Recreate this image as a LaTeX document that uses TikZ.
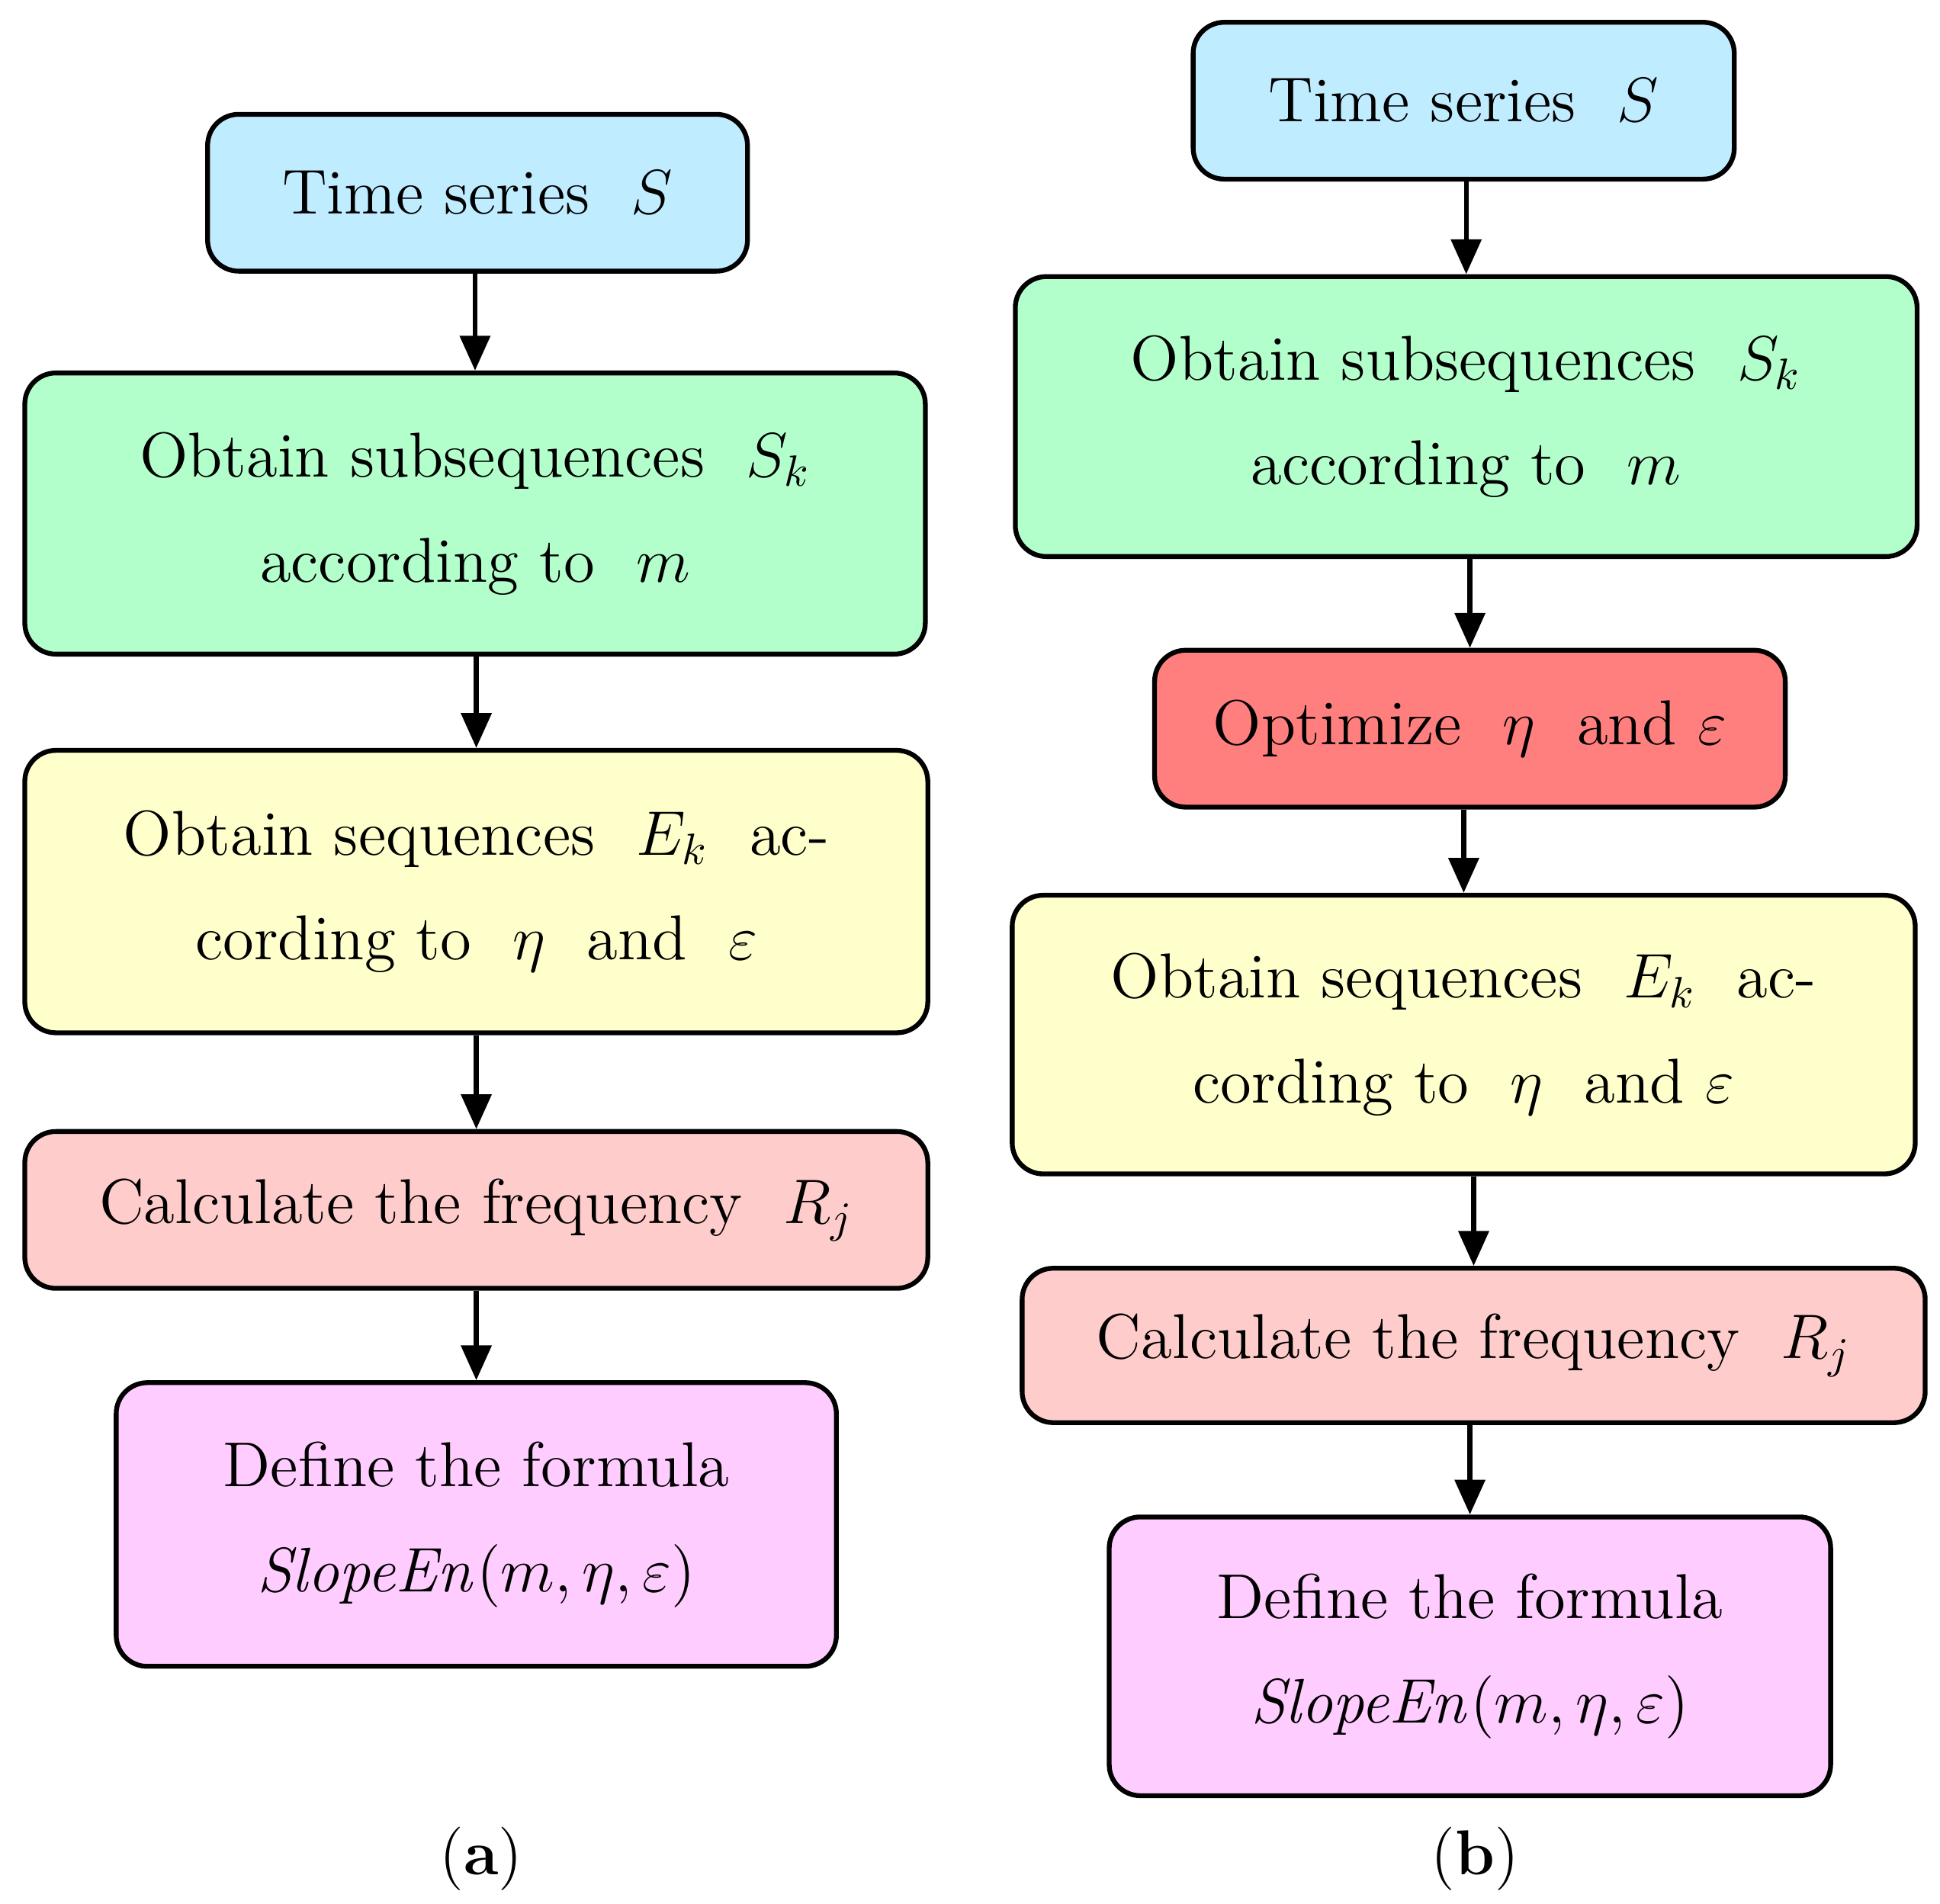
\documentclass[tikz,border=0pt]{standalone}
\usetikzlibrary{arrows.meta}
\definecolor{cy}{HTML}{C0ECFF}
\definecolor{gr}{HTML}{B3FFCC}
\definecolor{ye}{HTML}{FFFFCC}
\definecolor{pk}{HTML}{FFCCCC}
\definecolor{mg}{HTML}{FFCCFF}
\definecolor{rd}{HTML}{FF7F7F}
\begin{document}
\begin{tikzpicture}[x=0.01cm,y=-0.01cm,
 box/.style={draw,line width=1.1pt,rounded corners=0.25cm,align=center,font=\fontsize{14.5}{24}\selectfont,inner sep=0pt},
 arr/.style={line width=1.1pt,-{Triangle[length=0.28cm,width=0.24cm]}}]
\useasboundingbox (0,0) rectangle (1560,1531);
\newcommand\bx[7]{\node[box,fill=#6,minimum width=#4*0.01cm-1.1pt,minimum height=#5*0.01cm-1.1pt] (#1) at (#2,#3) {#7};}
\bx{a1}{384}{155}{438}{130}{cy}{Time series\ \ $S$}
\bx{a2}{382}{413}{728}{230}{gr}{Obtain subsequences\ \ $S_k$\\according to\ \ $m$}
\bx{a3}{383}{717}{730}{231}{ye}{Obtain sequences\ \ $E_k$\ \ ac-\\cording to\ \ $\eta$\ \ and\ \ $\varepsilon$}
\bx{a4}{383}{973}{730}{130}{pk}{Calculate the frequency\ \ $R_j$}
\bx{a5}{383}{1226}{583}{232}{mg}{Define the formula\\$\mathit{SlopeEn}(m,\eta,\varepsilon)$}
\bx{b1}{1177}{81}{439}{130}{cy}{Time series\ \ $S$}
\bx{b2}{1179}{335}{729}{229}{gr}{Obtain subsequences\ \ $S_k$\\according to\ \ $m$}
\bx{b3}{1182}{586}{511}{130}{rd}{Optimize\ \ $\eta$\ \ and $\varepsilon$}
\bx{b4}{1177}{832}{730}{228}{ye}{Obtain sequences\ \ $E_k$\ \ ac-\\cording to\ \ $\eta$\ \ and $\varepsilon$}
\bx{b5}{1185}{1082}{730}{128}{pk}{Calculate the frequency\ \ $R_j$}
\bx{b6}{1182}{1332}{584}{228}{mg}{Define the formula\\$\mathit{SlopeEn}(m,\eta,\varepsilon)$}
\foreach \p/\q in {a1/a2,a2/a3,a3/a4,a4/a5,b1/b2,b2/b3,b3/b4,b4/b5,b5/b6}
 \draw[arr] (\q.north |- \p.south) -- (\q.north);
\node[font=\fontsize{14.5}{16}\selectfont] (la) at (387,1495) {(\textbf{a})};
\node[font=\fontsize{14.5}{16}\selectfont] (lb) at (1186,1495) {(\textbf{b})};
\end{tikzpicture}
\end{document}
